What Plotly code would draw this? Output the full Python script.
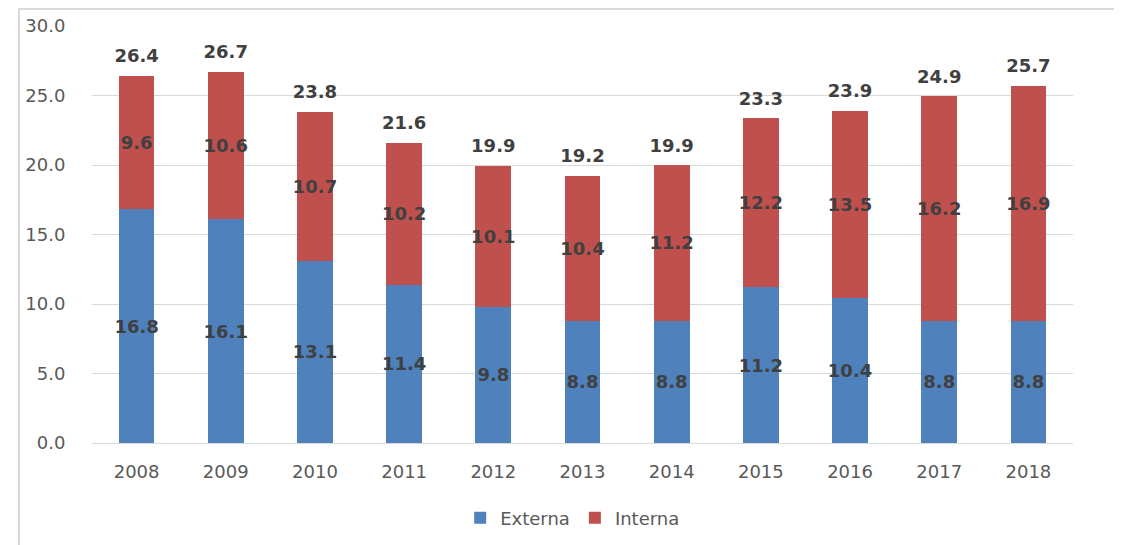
import plotly.graph_objects as go

years = ["2008", "2009", "2010", "2011", "2012", "2013", "2014", "2015", "2016", "2017", "2018"]
externa = [16.8, 16.1, 13.1, 11.4, 9.8, 8.8, 8.8, 11.2, 10.4, 8.8, 8.8]
interna = [9.6, 10.6, 10.7, 10.2, 10.1, 10.4, 11.2, 12.2, 13.5, 16.2, 16.9]
totals = [26.4, 26.7, 23.8, 21.6, 19.9, 19.2, 19.9, 23.3, 23.9, 24.9, 25.7]
y_ticks = [0, 5, 10, 15, 20, 25, 30]

FONT = "DejaVu Sans"
label_font = dict(family=FONT, size=18, color="#404040")
tick_font = dict(family=FONT, size=18, color="#595959")

fig = go.Figure()
fig.add_trace(go.Bar(
    x=years, y=externa, name="Externa", marker=dict(color="#4F81BD", line=dict(width=0)),
    text=[f"{v:.1f}" for v in externa], textposition="inside", insidetextanchor="middle",
    textangle=0, constraintext="none", textfont=label_font, texttemplate="<b>%{text}</b>",
    hoverinfo="skip",
))
fig.add_trace(go.Bar(
    x=years, y=interna, name="Interna", marker=dict(color="#C0504D", line=dict(width=0)),
    text=[f"{v:.1f}" for v in interna], textposition="inside", insidetextanchor="middle",
    textangle=0, constraintext="none", textfont=label_font, texttemplate="<b>%{text}</b>",
    hoverinfo="skip",
))
fig.add_trace(go.Scatter(
    x=years, y=totals, mode="markers+text", text=[f"<b>{v:.1f}</b>" for v in totals],
    marker=dict(size=14, color="rgba(0,0,0,0)"),
    textposition="top center", textfont=label_font, showlegend=False, hoverinfo="skip",
))

fig.add_shape(type="rect", xref="paper", yref="paper", x0=-0.0744, x1=1.0459, y0=-0.3, y1=1.0408,
              line=dict(color="#D9D9D9", width=2), fillcolor="rgba(0,0,0,0)", layer="above")

fig.update_layout(
    barmode="stack", bargap=0.6,
    width=1114, height=537,
    margin=dict(l=84, r=49, t=18, b=102, autoexpand=False),
    paper_bgcolor="white", plot_bgcolor="white",
    font=dict(family=FONT, size=18, color="#595959"),
    legend=dict(orientation="h", x=0.49, xanchor="center", y=-0.18, yanchor="middle",
                font=tick_font, traceorder="normal", itemwidth=30),
    showlegend=True,
)
fig.update_yaxes(range=[0, 30], tickvals=y_ticks, tickformat=".1f", showgrid=True,
                 gridcolor="#D9D9D9", gridwidth=1, zeroline=False, showline=False,
                 ticks="outside", ticklen=22, tickcolor="rgba(0,0,0,0)",
                 tickfont=tick_font, automargin=False)
fig.update_xaxes(type="category", range=[-0.5, len(years) - 0.5], showline=True,
                 linecolor="#D9D9D9", linewidth=1, showgrid=False,
                 ticks="outside", ticklen=12, tickcolor="rgba(0,0,0,0)",
                 tickfont=tick_font, automargin=False)

fig.write_html("out.html")
